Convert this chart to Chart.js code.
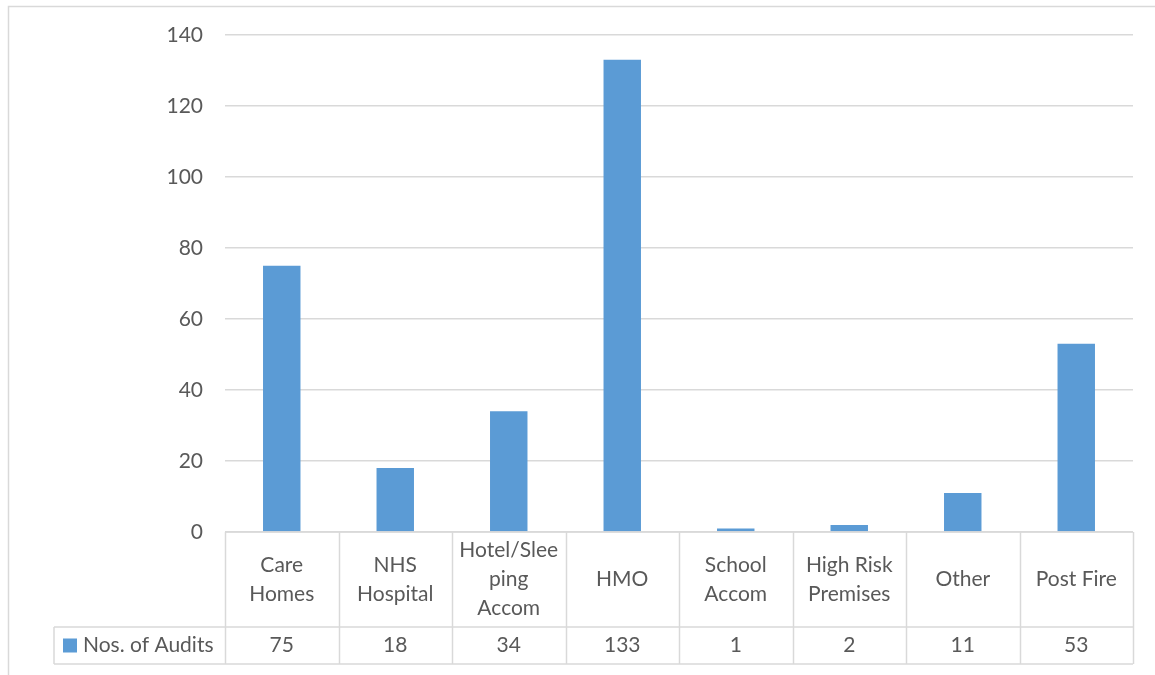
<!DOCTYPE html>
<html>
<head>
<meta charset="utf-8">
<script src="https://cdn.jsdelivr.net/npm/chart.js@4"></script>
<style>
  html, body { margin: 0; padding: 0; background: #fff; }
  #wrap { width: 1155px; height: 675px; position: relative; }
</style>
</head>
<body>
<div id="wrap"><canvas id="auditChart" width="1155" height="675"></canvas></div>
<script>
// chart data
const categories = [
  ['Care', 'Homes'],
  ['NHS', 'Hospital'],
  ['Hotel/Slee', 'ping', 'Accom'],
  ['HMO'],
  ['School', 'Accom'],
  ['High Risk', 'Premises'],
  ['Other'],
  ['Post Fire']
];
const seriesName = 'Nos. of Audits';
const audits = [75, 18, 34, 133, 1, 2, 11, 53];
const yTicks = [0, 20, 40, 60, 80, 100, 120, 140];

const FONT = 'Lato, "Open Sans", sans-serif';
const TEXT = '#595959';
const LINE = '#d9d9d9';
const BAR = '#5b9bd5';

// draws the outer frame and the data table under the plot
const dataTable = {
  id: 'dataTable',
  beforeDraw(chart) {
    const ctx = chart.ctx;
    ctx.save();
    ctx.strokeStyle = LINE;
    ctx.lineWidth = 1.5;
    ctx.strokeRect(8.5, 6.5, 1300, 800);
    ctx.restore();
  },
  afterDraw(chart) {
    const ctx = chart.ctx;
    const area = chart.chartArea;
    const x = chart.scales.x;
    const n = categories.length;
    const cw = (area.right - area.left) / n;
    const top = area.bottom;
    const mid = top + 95;
    const bot = mid + 37;
    const legendLeft = 54;

    ctx.save();
    ctx.strokeStyle = LINE;
    ctx.lineWidth = 1.5;
    ctx.beginPath();
    // horizontal lines
    ctx.moveTo(area.left, top); ctx.lineTo(area.right, top);
    ctx.moveTo(legendLeft, mid); ctx.lineTo(area.right, mid);
    ctx.moveTo(legendLeft, bot); ctx.lineTo(area.right, bot);
    // vertical lines
    for (let i = 0; i <= n; i++) {
      const px = Math.round(area.left + i * cw) + 0.5;
      ctx.moveTo(px, top); ctx.lineTo(px, bot);
    }
    ctx.moveTo(legendLeft, mid); ctx.lineTo(legendLeft, bot);
    ctx.stroke();

    ctx.fillStyle = TEXT;
    ctx.font = '21px ' + FONT;
    ctx.textAlign = 'center';
    ctx.textBaseline = 'middle';
    const lh = 29;
    const cy = (top + mid) / 2;
    categories.forEach((lines, i) => {
      const cx = x.getPixelForValue(i);
      const y0 = cy - (lines.length - 1) * lh / 2;
      lines.forEach((t, j) => ctx.fillText(t, cx, y0 + j * lh));
      ctx.fillText(String(audits[i]), cx, (mid + bot) / 2);
    });

    // legend key
    ctx.fillStyle = BAR;
    ctx.fillRect(63, (mid + bot) / 2 - 7, 14, 14);
    ctx.fillStyle = TEXT;
    ctx.textAlign = 'left';
    ctx.fillText(seriesName, 83, (mid + bot) / 2);
    ctx.restore();
  }
};

new Chart(document.getElementById('auditChart'), {
  type: 'bar',
  data: {
    labels: categories.map(c => c.join(' ')),
    datasets: [{
      label: seriesName,
      data: audits,
      backgroundColor: BAR,
      barPercentage: 0.33,
      categoryPercentage: 1
    }]
  },
  options: {
    responsive: false,
    animation: false,
    layout: { padding: { left: 0, top: 35, right: 22, bottom: 143 } },
    plugins: { legend: { display: false }, tooltip: { enabled: false } },
    scales: {
      x: { display: false },
      y: {
        min: 0,
        max: 140,
        afterBuildTicks: s => { s.ticks = yTicks.map(v => ({ value: v })); },
        afterFit: s => { s.width = 225; },
        grid: { color: LINE, lineWidth: 1.5, drawTicks: false },
        border: { display: false },
        ticks: { color: TEXT, font: { family: FONT, size: 21 }, padding: 22 }
      }
    }
  },
  plugins: [dataTable]
});
</script>
</body>
</html>
